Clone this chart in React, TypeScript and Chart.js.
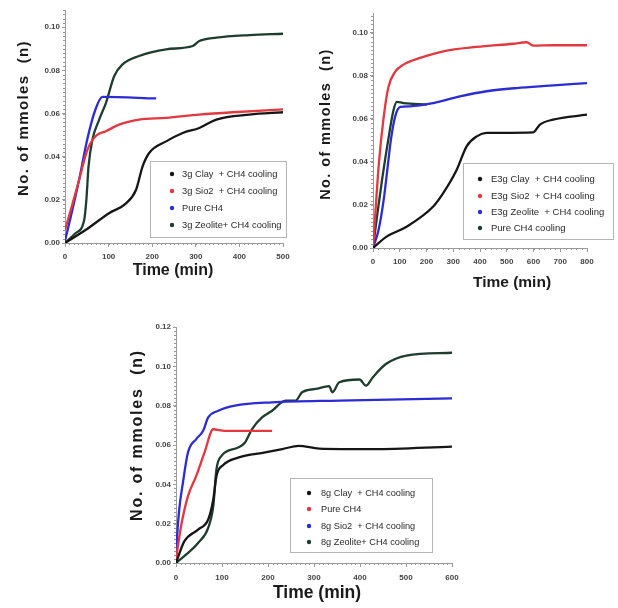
import React, { useEffect, useRef } from "react";
import { Chart, registerables } from "chart.js";
Chart.register(...registerables);

// ---------- Chart A (3g) ----------
const a_clay_x = [0, 47, 101, 140, 163, 178, 193, 232, 270, 308, 347, 423, 500];
const a_clay_y = [0, 0.006, 0.0138, 0.0184, 0.0247, 0.0355, 0.0417, 0.0471, 0.051, 0.0533, 0.0572, 0.0595, 0.0606];
const a_sio2_x = [0, 17, 32, 51, 70, 94, 124, 170, 232, 308, 385, 500];
const a_sio2_y = [0.006, 0.018, 0.029, 0.043, 0.0495, 0.0518, 0.0549, 0.0572, 0.058, 0.0595, 0.0606, 0.0619];
const a_pure_x = [0, 13, 32, 51, 70, 86, 209];
const a_pure_y = [0.001, 0.012, 0.029, 0.048, 0.062, 0.0677, 0.067];
const a_zeo_x = [0, 24, 44, 49, 54, 63, 78, 94, 113, 132, 170, 232, 293, 308, 347, 423, 500];
const a_zeo_y = [0, 0.0045, 0.0107, 0.02, 0.0355, 0.048, 0.057, 0.065, 0.0774, 0.0828, 0.0867, 0.0898, 0.0913, 0.0936, 0.0952, 0.0964, 0.097];
const a_labels = ["3g Clay  + CH4 cooling", "3g Sio2  + CH4 cooling", "Pure CH4", "3g Zeolite+ CH4 cooling"];

// ---------- Chart B (E3g) ----------
const b_clay_x = [0, 52, 127, 226, 263, 313, 350, 388, 425, 599, 624, 673, 800];
const b_clay_y = [0, 0.0054, 0.01, 0.0194, 0.0256, 0.0364, 0.0473, 0.0519, 0.0535, 0.0538, 0.0574, 0.0597, 0.062];
const b_sio2_x = [0, 9, 21, 40, 58, 83, 114, 176, 263, 388, 524, 574, 599, 673, 800];
const b_sio2_y = [0, 0.0163, 0.038, 0.061, 0.075, 0.082, 0.0853, 0.0884, 0.0915, 0.0935, 0.095, 0.0957, 0.0941, 0.0943, 0.0943];
const b_zeo_x = [0, 21, 40, 55, 67, 83, 102, 139, 226, 325, 425, 537, 661, 800];
const b_zeo_y = [0, 0.0085, 0.0225, 0.038, 0.0504, 0.0612, 0.0656, 0.0659, 0.0674, 0.0705, 0.0729, 0.0744, 0.0755, 0.0767];
const b_pure_x = [0, 15, 34, 55, 77, 89, 114, 201];
const b_pure_y = [0, 0.0147, 0.0318, 0.0488, 0.0643, 0.068, 0.0674, 0.0667];
const b_labels = ["E3g Clay  + CH4 cooling", "E3g Sio2  + CH4 cooling", "E3g Zeolite  + CH4 cooling", "Pure CH4 cooling"];

// ---------- Chart C (8g) ----------
const c_clay_x = [0, 18, 48, 70, 81, 88, 102, 135, 194, 231, 267, 311, 428, 600];
const c_clay_y = [0, 0.011, 0.017, 0.0221, 0.0323, 0.0443, 0.0497, 0.0536, 0.0562, 0.0579, 0.0596, 0.0582, 0.0579, 0.0592];
const c_pure_x = [0, 11, 26, 44, 62, 81, 106, 209];
const c_pure_y = [0.002, 0.0187, 0.034, 0.0443, 0.0562, 0.068, 0.0672, 0.0672];
const c_sio2_x = [0, 2, 7, 15, 26, 44, 59, 70, 92, 128, 209, 355, 600];
const c_sio2_y = [0, 0.0119, 0.0272, 0.0408, 0.0562, 0.063, 0.0672, 0.074, 0.0774, 0.08, 0.0817, 0.0826, 0.0837];
const c_zeo_x = [0, 48, 70, 81, 88, 99, 135, 150, 165, 187, 209, 238, 260, 274, 304, 333, 340, 355, 399, 413, 428, 457, 501, 600];
const c_zeo_y = [0, 0.0102, 0.0179, 0.0289, 0.0477, 0.0545, 0.0587, 0.0613, 0.068, 0.074, 0.0774, 0.0826, 0.0826, 0.0868, 0.0885, 0.0899, 0.0868, 0.0919, 0.0933, 0.0902, 0.0945, 0.1013, 0.1055, 0.1069];
const c_labels = ["8g Clay  + CH4 cooling", "Pure CH4", "8g Sio2  + CH4 cooling", "8g Zeolite+ CH4 cooling"];

const yTitle = "No. of mmoles  (n)";
const xTitle = "Time (min)";

const BLACK = "#161616";
const GREEN = "#1f3d2d";
const RED = "#e2383f";
const BLUE = "#2c2cd4";
const FAMILY = "'Liberation Sans', Arial, sans-serif";

const pts = (xs: number[], ys: number[]) => xs.map((x, i) => ({ x, y: ys[i] }));

const decoPlugin = {
  id: "deco",
  afterDraw(chart: any) {
    const o = chart.options.plugins.deco;
    if (!o) return;
    const ctx = chart.ctx as CanvasRenderingContext2D;
    const xs = chart.scales.x;
    const ys = chart.scales.y;
    const area = chart.chartArea;
    ctx.save();
    // minor ticks
    ctx.strokeStyle = "#9a9a9a";
    ctx.lineWidth = 1;
    ctx.beginPath();
    for (let v = 0; v <= xs.max + 1e-9; v += o.minorX) {
      const px = Math.round(xs.getPixelForValue(v)) + 0.5;
      ctx.moveTo(px, area.bottom);
      ctx.lineTo(px, area.bottom + 2);
    }
    for (let v = 0; v <= ys.max + 1e-9; v += o.minorY) {
      const py = Math.round(ys.getPixelForValue(v)) + 0.5;
      ctx.moveTo(area.left - 2, py);
      ctx.lineTo(area.left, py);
    }
    ctx.stroke();
    // titles
    ctx.fillStyle = "#1a1a1a";
    ctx.textAlign = "center";
    ctx.textBaseline = "middle";
    ctx.font = `bold ${o.xt.size}px ${FAMILY}`;
    ctx.fillText(xTitle, o.xt.x, o.xt.y);
    ctx.save();
    ctx.translate(o.yt.x, o.yt.y);
    ctx.rotate(-Math.PI / 2);
    ctx.font = `bold ${o.yt.size}px ${FAMILY}`;
    try { (ctx as any).letterSpacing = o.yt.spacing + "px"; } catch (e) {}
    ctx.fillText(yTitle, 0, 0);
    ctx.restore();
    // legend
    const L = o.legend;
    ctx.strokeStyle = "#b5b5b5";
    ctx.lineWidth = 1;
    ctx.strokeRect(L.x + 0.5, L.y + 0.5, L.w, L.h);
    ctx.textAlign = "left";
    ctx.font = `${L.size}px ${FAMILY}`;
    chart.data.datasets.forEach((ds: any, i: number) => {
      const ry = L.rows[i];
      ctx.fillStyle = ds.borderColor;
      ctx.beginPath();
      ctx.arc(L.mx, ry, 2.2, 0, Math.PI * 2);
      ctx.fill();
      ctx.fillStyle = "#2a2a2a";
      ctx.fillText(ds.label, L.tx, ry);
    });
    ctx.restore();
  },
};

function makeConfig(p: any, datasets: any[]) {
  return {
    type: "line" as const,
    data: { datasets },
    plugins: [decoPlugin],
    options: {
      animation: false,
      responsive: false,
      maintainAspectRatio: false,
      layout: { padding: { left: 0, right: p.padR, top: p.padT, bottom: 0 } },
      elements: { point: { radius: 0 }, line: { borderWidth: 2.3, cubicInterpolationMode: "monotone" } },
      plugins: { legend: { display: false }, tooltip: { enabled: false }, deco: p.deco },
      scales: {
        x: {
          type: "linear",
          min: 0,
          max: p.xMax,
          afterFit: (s: any) => { s.height = p.xH; },
          border: { color: "#9a9a9a", width: 1 },
          grid: { drawOnChartArea: false, tickLength: 4, color: "#9a9a9a" },
          ticks: { stepSize: p.xStep, autoSkip: false, maxRotation: 0, padding: p.xPad, color: "#444", font: { size: p.tickSize, family: FAMILY, weight: "bold" } },
        },
        y: {
          type: "linear",
          min: 0,
          max: p.yMax,
          afterFit: (s: any) => { s.width = p.yW; },
          afterBuildTicks: (s: any) => {
            s.ticks = s.ticks.filter((t: any) => Math.abs(t.value / 0.02 - Math.round(t.value / 0.02)) < 1e-6);
          },
          border: { color: "#9a9a9a", width: 1 },
          grid: { drawOnChartArea: false, tickLength: 3, color: "#9a9a9a" },
          ticks: { stepSize: 0.02, padding: 2, color: "#444", font: { size: p.tickSize, family: FAMILY, weight: "bold" }, callback: (v: any) => Number(v).toFixed(2) },
        },
      },
    },
  };
}

const ds = (label: string, color: string, xs: number[], ys: number[]) => ({
  label,
  data: pts(xs, ys),
  borderColor: color,
  backgroundColor: color,
  fill: false,
});

function ChartBox(props: { left: number; top: number; w: number; h: number; make: () => any }) {
  const ref = useRef<HTMLCanvasElement | null>(null);
  useEffect(() => {
    if (!ref.current) return;
    const c = new Chart(ref.current, props.make());
    return () => c.destroy();
  }, []);
  return (
    <canvas
      ref={ref}
      width={props.w}
      height={props.h}
      style={{ position: "absolute", left: props.left, top: props.top, width: props.w, height: props.h }}
    />
  );
}

const makeA = () =>
  makeConfig(
    {
      padR: 17, padT: 10, xH: 47, yW: 65, xMax: 500, xStep: 100, yMax: 0.108, xPad: 5, tickSize: 8,
      deco: {
        minorX: 10, minorY: 0.002,
        xt: { x: 173, y: 271, size: 16 },
        yt: { x: 24, y: 118, size: 15, spacing: 1.4 },
        legend: { x: 150, y: 161, w: 136, h: 76, rows: [174, 191, 208, 225], mx: 172, tx: 182, size: 9.3 },
      },
    },
    [
      ds(a_labels[0], BLACK, a_clay_x, a_clay_y),
      ds(a_labels[1], RED, a_sio2_x, a_sio2_y),
      ds(a_labels[2], BLUE, a_pure_x, a_pure_y),
      ds(a_labels[3], GREEN, a_zeo_x, a_zeo_y),
    ]
  );

const makeB = () =>
  makeConfig(
    {
      padR: 31, padT: 13, xH: 52, yW: 73, xMax: 800, xStep: 100, yMax: 0.1093, xPad: 5, tickSize: 8,
      deco: {
        minorX: 20, minorY: 0.002,
        xt: { x: 212, y: 283, size: 15.5 },
        yt: { x: 26, y: 124, size: 14.5, spacing: 1.4 },
        legend: { x: 163, y: 163, w: 150, h: 76, rows: [179, 196, 212, 228], mx: 180, tx: 191, size: 9.5 },
      },
    },
    [
      ds(b_labels[0], BLACK, b_clay_x, b_clay_y),
      ds(b_labels[1], RED, b_sio2_x, b_sio2_y),
      ds(b_labels[2], BLUE, b_zeo_x, b_zeo_y),
      ds(b_labels[3], GREEN, b_pure_x, b_pure_y),
    ]
  );

const makeC = () =>
  makeConfig(
    {
      padR: 28, padT: 27, xH: 45, yW: 56, xMax: 600, xStep: 100, yMax: 0.12, xPad: 6, tickSize: 8,
      deco: {
        minorX: 10, minorY: 0.002,
        xt: { x: 197, y: 293, size: 17.5 },
        yt: { x: 18, y: 135, size: 16, spacing: 1.8 },
        legend: { x: 170, y: 178, w: 142, h: 74, rows: [193, 209, 226, 242], mx: 189, tx: 201, size: 9.2 },
      },
    },
    [
      ds(c_labels[0], BLACK, c_clay_x, c_clay_y),
      ds(c_labels[1], RED, c_pure_x, c_pure_y),
      ds(c_labels[2], BLUE, c_sio2_x, c_sio2_y),
      ds(c_labels[3], GREEN, c_zeo_x, c_zeo_y),
    ]
  );

export default function App() {
  return (
    <div style={{ position: "absolute", left: 0, top: 0, width: 618, height: 608, background: "#fff", overflow: "hidden" }}>
      <ChartBox left={0} top={0} w={300} h={290} make={makeA} />
      <ChartBox left={300} top={0} w={318} h={300} make={makeB} />
      <ChartBox left={120} top={300} w={360} h={308} make={makeC} />
    </div>
  );
}
